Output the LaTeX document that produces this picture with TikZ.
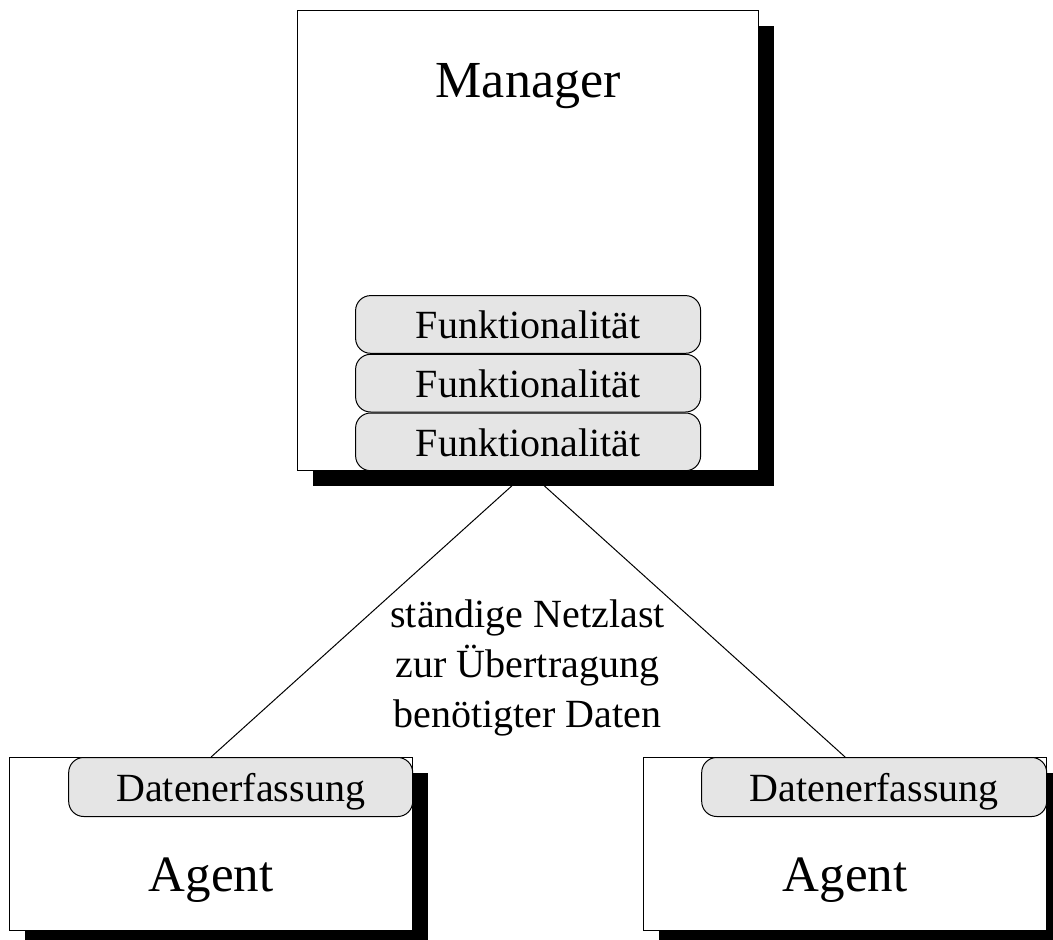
\documentclass[tikz,border=0pt]{standalone}
\usepackage{fontspec}
\setmainfont{Liberation Serif}
\usetikzlibrary{shadows}
\pgfdeclarelayer{bg}
\pgfsetlayers{bg,main}
\begin{document}
\begin{tikzpicture}[x=1pt,y=-1pt,
  box/.style={draw, line width=1.2pt, fill=white, inner sep=0pt,
    drop shadow={shadow xshift=15pt, shadow yshift=-15pt, fill=black, opacity=1}},
  pill/.style={draw, line width=1pt, fill=black!10, rounded corners=15pt,
    inner sep=0pt, text height=29pt, text depth=0pt,
    font=\fontsize{40}{48}\selectfont},
  title/.style={anchor=base, inner sep=0pt},
  link/.style={line width=1pt}]
\useasboundingbox (0,0) rectangle (1053,940);

% manager with its stacked functions
\node[box, minimum width=461pt, minimum height=460pt, anchor=north west] (mgr) at (297,10) {};
\node[title, font=\fontsize{52}{62}\selectfont] (mgrt) at ([yshift=-87pt]mgr.north) {Manager};
\node[pill, minimum width=345pt, minimum height=57.7pt, anchor=south] (f3) at (mgr.south) {Funktionalität};
\node[pill, minimum width=345pt, minimum height=57.7pt, anchor=south] (f2) at (f3.north) {Funktionalität};
\node[pill, minimum width=345pt, minimum height=57.7pt, anchor=south] (f1) at (f2.north) {Funktionalität};

% the two agents
\node[box, minimum width=403pt, minimum height=173pt, anchor=north west] (ag1) at (9,757) {};
\node[box, minimum width=403pt, minimum height=173pt, anchor=north west] (ag2) at (643,757) {};
\node[pill, minimum width=344pt, minimum height=59pt, anchor=north east] (d1) at (ag1.north east) {Datenerfassung};
\node[pill, minimum width=345pt, minimum height=59pt, anchor=north east] (d2) at (ag2.north east) {Datenerfassung};
\node[title, font=\fontsize{51}{61}\selectfont] (ag1t) at ([yshift=40pt]ag1.south) {Agent};
\node[title, font=\fontsize{51}{61}\selectfont] (ag2t) at ([yshift=40pt]ag2.south) {Agent};

% network load note
\node[align=center, inner sep=0pt, font=\fontsize{40}{50}\selectfont] (note) at (527.5,668)
  {ständige Netzlast\\zur Übertragung\\benötigter Daten};

% connections, behind the boxes and shadows
\begin{pgfonlayer}{bg}
\draw[link] (mgr.south) -- (ag1.north);
\draw[link] (mgr.south) -- (ag2.north);
\end{pgfonlayer}
\end{tikzpicture}
\end{document}
